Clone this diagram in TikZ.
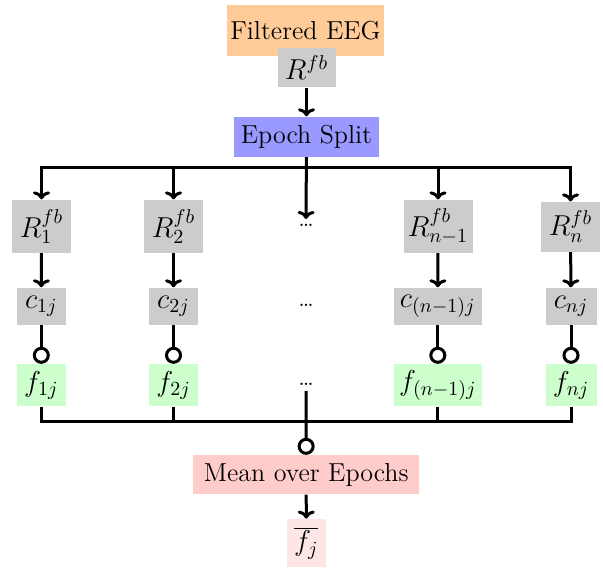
\documentclass[tikz,border=0pt]{standalone}
\usetikzlibrary{arrows.meta}
\definecolor{cOrange}{RGB}{255,204,153}
\definecolor{cBlue}{RGB}{153,153,255}
\definecolor{cGray}{RGB}{204,204,204}
\definecolor{cGreen}{RGB}{204,255,204}
\definecolor{cPink}{RGB}{255,204,204}
\definecolor{cLPink}{RGB}{255,230,230}
\tikzset{
  box/.style={inner sep=0pt, font=\fontsize{13}{15}\selectfont},
  mbox/.style={inner sep=0pt, font=\fontsize{14.5}{16}\selectfont},
  dotnode/.style={inner sep=2.5pt, font=\fontsize{12}{14}\selectfont},
  line/.style={line width=1.5pt},
  arr/.style={line width=1.5pt, -{To[length=4pt,width=8.5pt]}},
  circ/.style={line width=1.5pt, -{Circle[open,length=8.5pt,width=8.5pt]}},
}
\begin{document}
\begin{tikzpicture}[x=0.5pt,y=-0.5pt]
\useasboundingbox (0,0) rectangle (603,568);
% top
\node[box, fill=cOrange, minimum width=78.5pt, minimum height=25.5pt] (fe) at (305.5,30.5) {Filtered EEG};
\node[mbox, fill=cGray, minimum width=29pt, minimum height=19.5pt] (rfb) at (306.5,67.7) {$R^{fb}$};
\node[box, fill=cBlue, minimum width=72.5pt, minimum height=20pt] (es) at (306.5,136.7) {Epoch Split};
\coordinate (busT) at (306,167.3);
% R row
\node[mbox, fill=cGray, minimum width=29.5pt, minimum height=26.5pt] (r1) at (41.5,226.3) {$R^{fb}_{1}$};
\node[mbox, fill=cGray, minimum width=29.5pt, minimum height=26.5pt] (r2) at (173.5,226.3) {$R^{fb}_{2}$};
\node[dotnode] (d1) at (306,225.5) {\dots};
\node[mbox, fill=cGray, minimum width=34.5pt, minimum height=26.5pt] (rn1) at (438,226.3) {$R^{fb}_{n-1}$};
\node[mbox, fill=cGray, minimum width=29.5pt, minimum height=25pt] (rn) at (570.5,226.8) {$R^{fb}_{n}$};
% c row
\node[mbox, fill=cGray, minimum width=24.5pt, minimum height=18.5pt] (c1) at (41.3,306.2) {$c_{1j}$};
\node[mbox, fill=cGray, minimum width=24.5pt, minimum height=18.5pt] (c2) at (173.5,306.2) {$c_{2j}$};
\node[dotnode] (d2) at (306,305.5) {\dots};
\node[mbox, fill=cGray, minimum width=44pt, minimum height=18.5pt] (cn1) at (437.8,306.2) {$c_{(n-1)j}$};
\node[mbox, fill=cGray, minimum width=25.5pt, minimum height=18.5pt] (cn) at (571,306.2) {$c_{nj}$};
% f row
\node[mbox, fill=cGreen, minimum width=24.5pt, minimum height=21pt] (f1) at (41.3,385.2) {$f_{1j}$};
\node[mbox, fill=cGreen, minimum width=24.5pt, minimum height=21pt] (f2) at (173.5,385.2) {$f_{2j}$};
\node[dotnode] (d3) at (306,384.5) {\dots};
\node[mbox, fill=cGreen, minimum width=44pt, minimum height=21pt] (fn1) at (437.8,385.2) {$f_{(n-1)j}$};
\node[mbox, fill=cGreen, minimum width=25.5pt, minimum height=21pt] (fn) at (571,385.2) {$f_{nj}$};
\coordinate (busB) at (306,421.7);
% bottom
\node[box, fill=cPink, minimum width=113pt, minimum height=19.5pt] (mean) at (306.2,474.7) {Mean over Epochs};
\node[mbox, fill=cLPink, minimum width=19.5pt, minimum height=24pt] (fbar) at (306.3,543) {$\overline{f_j}$};
% connectors
\draw[arr] (rfb) -- (es);
\draw[arr] (es) -- (d1);
\draw[arr] (busT) -| (r1);
\draw[arr] (busT) -| (r2);
\draw[arr] (busT) -| (rn1);
\draw[arr] (busT) -| (rn);
\draw[arr] (r1) -- (c1);
\draw[arr] (r2) -- (c2);
\draw[arr] (rn1) -- (cn1);
\draw[arr] (rn) -- (cn);
\draw[circ] (c1) -- (f1);
\draw[circ] (c2) -- (f2);
\draw[circ] (cn1) -- (fn1);
\draw[circ] (cn) -- (fn);
\draw[line] (f1) |- (busB);
\draw[line] (f2) |- (busB);
\draw[line] (fn1) |- (busB);
\draw[line] (fn) |- (busB);
\draw[circ] (d3) -- (mean);
\draw[arr] (mean) -- (fbar);
\end{tikzpicture}
\end{document}
